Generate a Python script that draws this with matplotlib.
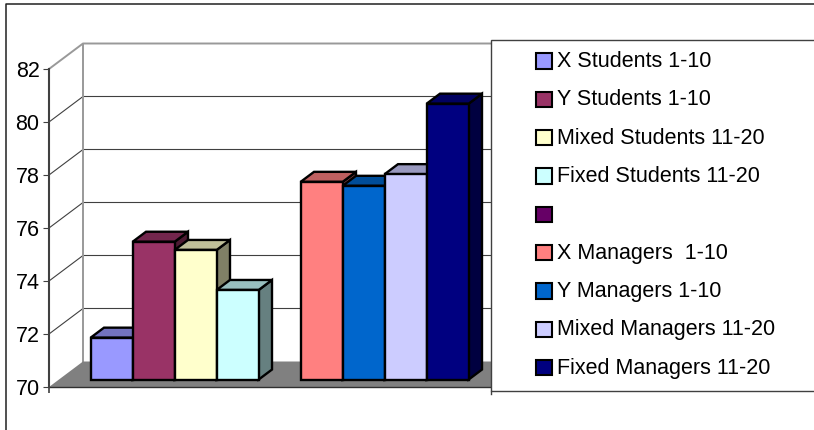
import matplotlib
matplotlib.use("Agg")
import matplotlib.pyplot as plt
from matplotlib.patches import Polygon, Rectangle

plt.rcParams['font.family'] = ['Liberation Sans', 'DejaVu Sans']

# Series, left to right (the unnamed one has no bar)
series_names = ["X Students 1-10", "Y Students 1-10", "Mixed Students 11-20", "Fixed Students 11-20", "",
                "X Managers  1-10", "Y Managers 1-10", "Mixed Managers 11-20", "Fixed Managers 11-20"]
series_values = [71.58, 75.2, 74.89, 73.38, None, 77.46, 77.31, 77.75, 80.41]
series_colors = ["#9999FF", "#993366", "#FFFFCC", "#CCFFFF", "#660066",
                 "#FF8080", "#0066CC", "#CCCCFF", "#000080"]
y_ticks = [70, 72, 74, 76, 78, 80, 82]

W, H = 814, 430
SLOT = 42.0       # pixels per bar
UNIT = 26.5       # pixels per y unit
DX = 34 / SLOT    # depth of the box, in data units
DY = 25.5 / UNIT
FRONT = 0.294     # where bars sit in the depth
BACK = 0.685
START = 0.755


def shade(color, k):
    rgb = matplotlib.colors.to_rgb(color)
    return tuple(c * k for c in rgb)


def pt(x, v, d=0.0):
    return (x + d * DX, v + d * DY)


fig = plt.figure(figsize=(W / 100, H / 100), dpi=100)
ax = fig.add_axes([49 / W, (H - 387) / H, (491 - 49) / W, 12 * UNIT / H])
ax.set_xlim(0, (491 - 49) / SLOT)
ax.set_ylim(70, 82)
ax.patch.set_alpha(0)

for side in ["top", "right"]:
    ax.spines[side].set_visible(False)
ax.spines["left"].set_color("#404040")
ax.spines["left"].set_linewidth(1.5)
ax.spines["bottom"].set_color("#303030")
ax.spines["bottom"].set_linewidth(1.0)
ax.spines["left"].set_zorder(6)
ax.spines["bottom"].set_zorder(2.5)
ax.set_xticks([0])
ax.set_xticklabels([""])
ax.tick_params(axis="x", length=4.3, width=1.2, color="#404040")
ax.set_yticks(y_ticks)
ax.tick_params(axis="y", length=4.3, width=0.8, color="#404040", pad=2.5, labelsize=15.5)

# walls and gridlines
xmax = ax.get_xlim()[1] + 2
for v in y_ticks[1:]:
    edge = "#999999" if v == 82 else "#404040"
    lw = 1.4 if v == 82 else 0.8
    ax.plot(*zip(pt(0, v), pt(0, v, 1), pt(xmax, v, 1)), color=edge, lw=lw, clip_on=False, zorder=1)
ax.plot(*zip(pt(0, 70, 1), pt(0, 82, 1)), color="#999999", lw=1.4, clip_on=False, zorder=1)

# floor
ax.add_patch(Polygon([pt(0, 70), pt(0, 70, 1), pt(xmax, 70, 1), pt(xmax, 70)],
                     facecolor="#808080", edgecolor="none", clip_on=False, zorder=2))

# bars
for i, (val, col) in enumerate(zip(series_values, series_colors)):
    if val is None:
        continue
    x0 = START + i
    x1 = x0 + 1
    z = 3 + i * 0.01
    style = dict(edgecolor="black", linewidth=1.7, joinstyle="miter", clip_on=False, zorder=z)
    ax.add_patch(Polygon([pt(x1, 70, FRONT), pt(x1, 70, BACK), pt(x1, val, BACK), pt(x1, val, FRONT)],
                         facecolor=shade(col, 0.5), **style))
    ax.add_patch(Polygon([pt(x0, val, FRONT), pt(x0, val, BACK), pt(x1, val, BACK), pt(x1, val, FRONT)],
                         facecolor=shade(col, 0.75), **style))
    ax.add_patch(Polygon([pt(x0, 70, FRONT), pt(x1, 70, FRONT), pt(x1, val, FRONT), pt(x0, val, FRONT)],
                         facecolor=col, **style))

# legend box and outer chart border
fig.add_artist(Rectangle((491 / W, (H - 391) / H), 330 / W, 351 / H, transform=fig.transFigure,
                         facecolor="white", edgecolor="#404040", linewidth=1.0, zorder=8))
fig.add_artist(plt.Line2D([491 / W, 491 / W], [(H - 394) / H, (H - 391) / H], color="#404040", lw=1.0, zorder=8))
fig.add_artist(plt.Line2D([5.5 / W, 5.5 / W, 1], [0, (H - 3.5) / H, (H - 3.5) / H], color="#202020", lw=1.1, zorder=8))

handles = [Rectangle((0, 0), 1, 1, facecolor=c, edgecolor="black", linewidth=1.5) for c in series_colors]
leg = fig.legend(handles, series_names, loc="upper left", bbox_to_anchor=(536 / W, (H - 51) / H),
                 borderaxespad=0, borderpad=0, frameon=False, fontsize=15.5, handlelength=0.72, handleheight=0.72,
                 handletextpad=0.25, labelspacing=0.805)
leg.set_zorder(9)
for h in leg.legend_handles:
    h.set_y(h.get_y() - 1.2)

fig.savefig("out.png", dpi=100)
